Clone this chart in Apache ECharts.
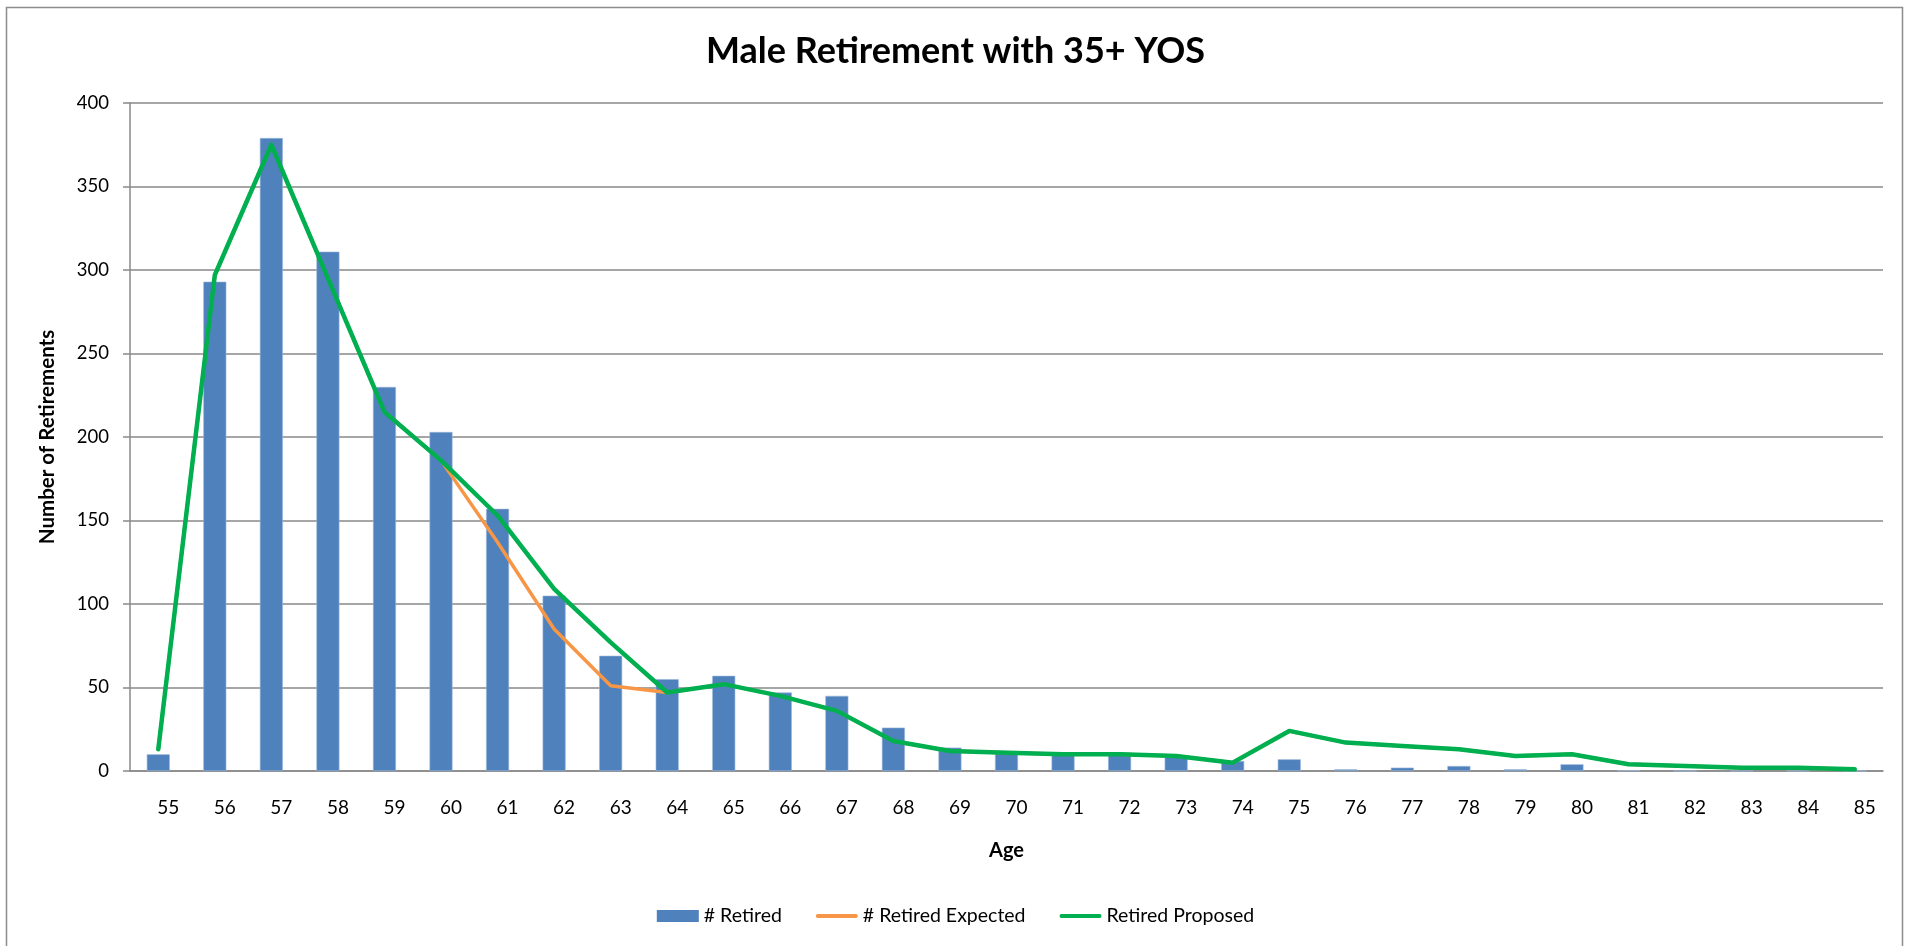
<!DOCTYPE html>
<html>
<head>
<meta charset="utf-8">
<title>Male Retirement with 35+ YOS</title>
<script src="https://cdn.jsdelivr.net/npm/echarts@6/dist/echarts.min.js"></script>
<style>
  html, body { margin: 0; padding: 0; background: #fff; }
  #chart { width: 1911px; height: 946px; }
</style>
</head>
<body>
<div id="chart"></div>
<script>
// ages on the x axis
const ages = ['55', '56', '57', '58', '59', '60', '61', '62', '63', '64', '65', '66', '67', '68', '69', '70',
  '71', '72', '73', '74', '75', '76', '77', '78', '79', '80', '81', '82', '83', '84', '85']

// # Retired (bars)
const retired = [10, 293, 379, 311, 230, 203, 157, 105, 69, 55, 57, 47, 45, 26, 14, 12,
  11, 11, 9, 6, 7, 1, 2, 3, 1, 4, 0.3, 0, 0, 0, 0]

// # Retired Expected (orange line, mostly hidden under the green one)
const retiredExpected = [13, 297, 375, 295, 215, 186, 137, 85, 51, 47, 52, 45, 36, 18, 12, 11,
  10, 10, 9, 5, 24, 17, 15, 13, 9, 10, 4, 3, 2, 2, 1]

// Retired Proposed (green line)
const retiredProposed = [13, 297, 375, 295, 215, 186, 153, 109, 77, 47, 52, 45, 36, 18, 12, 11,
  10, 10, 9, 5, 24, 17, 15, 13, 9, 10, 4, 3, 2, 2, 1]

const yTicks = { min: 0, max: 400, interval: 50 }

const font = 'Lato, "Open Sans", sans-serif'
const gridGrey = '#898989'
// thick rounded stroke used as the legend key of the two lines
const lineKey = 'path://M2,0 L42,0 A2,2 0 0 1 42,4 L2,4 A2,2 0 0 1 2,0 Z'

const chart = echarts.init(document.getElementById('chart'))
chart.setOption({
  animation: false,
  textStyle: { fontFamily: font },
  title: {
    text: 'Male Retirement with 35+ YOS',
    left: 'center',
    top: 28,
    textStyle: { fontFamily: font, fontSize: 36, fontWeight: 'bold', color: '#000' }
  },
  graphic: [
    { // chart area frame
      type: 'rect',
      shape: { x: 6.5, y: 7.5, width: 1896, height: 950 },
      style: { fill: 'none', stroke: '#8c8c8c', lineWidth: 1.5 },
      silent: true
    }
  ],
  legend: {
    left: 'center',
    top: 901,
    itemWidth: 42,
    itemHeight: 12,
    itemGap: 34,
    textStyle: { fontFamily: font, fontSize: 19.5, color: '#000' },
    data: [
      { name: '# Retired', icon: 'rect', itemStyle: { borderWidth: 0 } },
      { name: '# Retired Expected', icon: lineKey },
      { name: 'Retired Proposed', icon: lineKey }
    ]
  },
  grid: { left: 130, right: 28, top: 103, bottom: 175 },
  xAxis: {
    type: 'category',
    data: ages,
    name: 'Age',
    nameLocation: 'middle',
    nameGap: 70,
    nameTextStyle: { fontFamily: font, fontSize: 20, fontWeight: 'bold', color: '#000' },
    axisLine: { lineStyle: { color: gridGrey, width: 1.5 } },
    axisTick: { length: 7, lineStyle: { color: gridGrey, width: 1.5 } },
    // labels sit about 10px right of the category centre in the original
    axisLabel: { margin: 27, padding: [0, 0, 0, 20], fontFamily: font, fontSize: 19, color: '#000' }
  },
  yAxis: {
    type: 'value',
    min: yTicks.min,
    max: yTicks.max,
    interval: yTicks.interval,
    name: 'Number of Retirements',
    nameLocation: 'middle',
    nameGap: 72,
    nameTextStyle: { fontFamily: font, fontSize: 20.5, fontWeight: 'bold', color: '#000' },
    axisLine: { show: true, lineStyle: { color: gridGrey, width: 1.5 } },
    axisTick: { show: true, length: 7, lineStyle: { color: gridGrey, width: 1.5 } },
    axisLabel: { margin: 21, fontFamily: font, fontSize: 18.5, color: '#000' },
    splitLine: { lineStyle: { color: gridGrey, width: 1.5 } }
  },
  series: [
    {
      name: '# Retired',
      type: 'bar',
      data: retired,
      barWidth: 23,
      itemStyle: { color: '#4f81bd', borderColor: '#9bb7da', borderWidth: 0.6 }
    },
    {
      name: '# Retired Expected',
      type: 'line',
      data: retiredExpected,
      symbol: 'none',
      itemStyle: { color: '#f79646' },
      lineStyle: { color: '#f79646', width: 3.5, cap: 'round' }
    },
    {
      name: 'Retired Proposed',
      type: 'line',
      data: retiredProposed,
      symbol: 'none',
      itemStyle: { color: '#00b050' },
      lineStyle: { color: '#00b050', width: 4.5, cap: 'round', join: 'round' }
    }
  ]
})
</script>
</body>
</html>
